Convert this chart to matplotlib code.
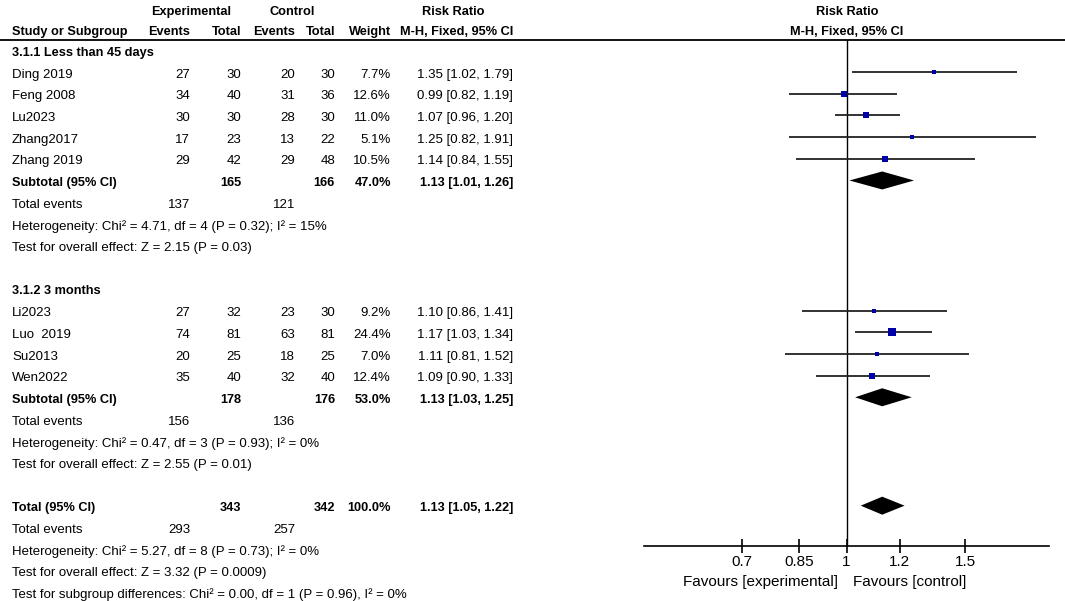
import numpy as np
import matplotlib
matplotlib.use("Agg")
import matplotlib.pyplot as plt
from matplotlib.ticker import NullLocator

plt.rcParams['font.family'] = ['Liberation Sans', 'DejaVu Sans']

# ---- 数据 ----
g1_names = ["Ding 2019", "Feng 2008", "Lu2023", "Zhang2017", "Zhang 2019"]
g1_exp_events = [27, 34, 30, 17, 29]
g1_exp_total = [30, 40, 30, 23, 42]
g1_ctl_events = [20, 31, 28, 13, 29]
g1_ctl_total = [30, 36, 30, 22, 48]
g1_weight = [7.7, 12.6, 11.0, 5.1, 10.5]
g1_rr = [1.35, 0.99, 1.07, 1.25, 1.14]
g1_lo = [1.02, 0.82, 0.96, 0.82, 0.84]
g1_hi = [1.79, 1.19, 1.20, 1.91, 1.55]

g2_names = ["Li2023", "Luo  2019", "Su2013", "Wen2022"]
g2_exp_events = [27, 74, 20, 35]
g2_exp_total = [32, 81, 25, 40]
g2_ctl_events = [23, 63, 18, 32]
g2_ctl_total = [30, 81, 25, 40]
g2_weight = [9.2, 24.4, 7.0, 12.4]
g2_rr = [1.10, 1.17, 1.11, 1.09]
g2_lo = [0.86, 1.03, 0.81, 0.90]
g2_hi = [1.41, 1.34, 1.52, 1.33]

group_titles = ["3.1.1 Less than 45 days", "3.1.2 3 months"]
sub_exp_total = [165, 178]
sub_ctl_total = [166, 176]
sub_exp_events = [137, 156]
sub_ctl_events = [121, 136]
sub_weight = [47.0, 53.0]
sub_rr = [1.13, 1.13]
sub_lo = [1.01, 1.03]
sub_hi = [1.26, 1.25]
sub_het = ["Heterogeneity: Chi\u00b2 = 4.71, df = 4 (P = 0.32); I\u00b2 = 15%",
           "Heterogeneity: Chi\u00b2 = 0.47, df = 3 (P = 0.93); I\u00b2 = 0%"]
sub_z = ["Test for overall effect: Z = 2.15 (P = 0.03)",
         "Test for overall effect: Z = 2.55 (P = 0.01)"]

tot_exp_total, tot_ctl_total = 343, 342
tot_exp_events, tot_ctl_events = 293, 257
tot_weight = 100.0
tot_rr, tot_lo, tot_hi = 1.13, 1.05, 1.22
tot_het = "Heterogeneity: Chi\u00b2 = 5.27, df = 8 (P = 0.73); I\u00b2 = 0%"
tot_z = "Test for overall effect: Z = 3.32 (P = 0.0009)"
tot_sub = "Test for subgroup differences: Chi\u00b2 = 0.00, df = 1 (P = 0.96), I\u00b2 = 0%"

ticks = [0.7, 0.85, 1, 1.2, 1.5]
tick_labels = ["0.7", "0.85", "1", "1.2", "1.5"]

# ---- 布局 (像素) ----
W, H = 1065, 601
Y0, DY = 53.0, 21.68
FS = 9.5      # 普通文字
FB = 9.2      # 粗体文字
FP = 11       # 坐标轴文字 (比表格大)
COLS = [190, 241, 295, 335, 391, 513]   # 各数字列的右边界
LEFT = 12
MARK_OFF = 0.12


def row_of(py):
    return (py - Y0) / DY


def fmt_ci(rr, lo, hi):
    return f"{rr:.2f} [{lo:.2f}, {hi:.2f}]"


fig = plt.figure(figsize=(W / 100, H / 100), dpi=100)
tab = fig.add_axes([0, 0, 1, 1])
tab.set_xlim(0, W)
tab.set_ylim(row_of(H), row_of(0))
tab.axis('off')

fa = fig.add_axes([644 / W, 1 - 546 / H, (1049 - 644) / W, (546 - 40) / H])
fa.set_xscale('log')
fa.set_xlim(0.5, 2)
fa.set_ylim(row_of(546), row_of(40))
fa.patch.set_alpha(0)
for s in ['top', 'right', 'left']:
    fa.spines[s].set_visible(False)
fa.spines['bottom'].set_linewidth(1.2)
fa.set_yticks([])
fa.set_xticks(ticks)
fa.set_xticklabels(tick_labels, fontsize=FP)
fa.xaxis.set_minor_locator(NullLocator())
fa.tick_params(axis='x', direction='inout', length=10, width=1.2, pad=1.5)
fa.axvline(1, color='black', lw=1.0)

# 表头
hy1, hy2 = row_of(12), row_of(32)
tab.text(191, hy1, "Experimental", ha='center', va='center', fontsize=FB, weight='bold')
tab.text(292, hy1, "Control", ha='center', va='center', fontsize=FB, weight='bold')
tab.text(453, hy1, "Risk Ratio", ha='center', va='center', fontsize=FB, weight='bold')
tab.text(847, hy1, "Risk Ratio", ha='center', va='center', fontsize=FB, weight='bold')
tab.text(LEFT, hy2, "Study or Subgroup", ha='left', va='center', fontsize=FB, weight='bold')
for x, t in zip(COLS, ["Events", "Total", "Events", "Total", "Weight", "M-H, Fixed, 95% CI"]):
    tab.text(x, hy2, t, ha='right', va='center', fontsize=FB, weight='bold')
tab.text(847, hy2, "M-H, Fixed, 95% CI", ha='center', va='center', fontsize=FB, weight='bold')
tab.plot([0, W], [row_of(40), row_of(40)], color='black', lw=1.3)


def diamond(r, est, lo, hi):
    h = 9 / DY
    fa.fill([lo, est, hi, est], [r, r - h, r, r + h], color='black', lw=0)


groups = [
    (g1_names, g1_exp_events, g1_exp_total, g1_ctl_events, g1_ctl_total, g1_weight, g1_rr, g1_lo, g1_hi),
    (g2_names, g2_exp_events, g2_exp_total, g2_ctl_events, g2_ctl_total, g2_weight, g2_rr, g2_lo, g2_hi),
]

r = 0
for gi, (names, ee, et, ce, ct, w, rr, lo, hi) in enumerate(groups):
    tab.text(LEFT, r, group_titles[gi], ha='left', va='center', fontsize=FB, weight='bold')
    r += 1
    for i in range(len(names)):
        vals = [str(ee[i]), str(et[i]), str(ce[i]), str(ct[i]), f"{w[i]:.1f}%", fmt_ci(rr[i], lo[i], hi[i])]
        tab.text(LEFT, r, names[i], ha='left', va='center', fontsize=FS)
        for x, t in zip(COLS, vals):
            tab.text(x, r, t, ha='right', va='center', fontsize=FS)
        y = r - MARK_OFF
        fa.plot([lo[i], hi[i]], [y, y], color='#222222', lw=1.3, solid_capstyle='butt')
        fa.plot(rr[i], y, 's', ms=1.6 * np.sqrt(w[i]) * 0.72, color='#0000A8', mew=0)
        r += 1
    # subtotal
    tab.text(LEFT, r, "Subtotal (95% CI)", ha='left', va='center', fontsize=FB, weight='bold')
    for x, t in zip([COLS[1], COLS[3], COLS[4], COLS[5]],
                    [str(sub_exp_total[gi]), str(sub_ctl_total[gi]), f"{sub_weight[gi]:.1f}%",
                     fmt_ci(sub_rr[gi], sub_lo[gi], sub_hi[gi])]):
        tab.text(x, r, t, ha='right', va='center', fontsize=FB, weight='bold')
    diamond(r - MARK_OFF, sub_rr[gi], sub_lo[gi], sub_hi[gi])
    r += 1
    tab.text(LEFT, r, "Total events", ha='left', va='center', fontsize=FS)
    tab.text(COLS[0], r, str(sub_exp_events[gi]), ha='right', va='center', fontsize=FS)
    tab.text(COLS[2], r, str(sub_ctl_events[gi]), ha='right', va='center', fontsize=FS)
    r += 1
    tab.text(LEFT, r, sub_het[gi], ha='left', va='center', fontsize=FS)
    r += 1
    tab.text(LEFT, r, sub_z[gi], ha='left', va='center', fontsize=FS)
    r += 2

# 总计
tab.text(LEFT, r, "Total (95% CI)", ha='left', va='center', fontsize=FB, weight='bold')
for x, t in zip([COLS[1], COLS[3], COLS[4], COLS[5]],
                [str(tot_exp_total), str(tot_ctl_total), f"{tot_weight:.1f}%",
                 fmt_ci(tot_rr, tot_lo, tot_hi)]):
    tab.text(x, r, t, ha='right', va='center', fontsize=FB, weight='bold')
diamond(r - MARK_OFF, tot_rr, tot_lo, tot_hi)
r += 1
tab.text(LEFT, r, "Total events", ha='left', va='center', fontsize=FS)
tab.text(COLS[0], r, str(tot_exp_events), ha='right', va='center', fontsize=FS)
tab.text(COLS[2], r, str(tot_ctl_events), ha='right', va='center', fontsize=FS)
r += 1
for t in [tot_het, tot_z, tot_sub]:
    tab.text(LEFT, r, t, ha='left', va='center', fontsize=FS)
    r += 1

fy = row_of(582)
tab.text(838, fy, "Favours [experimental]", ha='right', va='center', fontsize=FP)
tab.text(853, fy, "Favours [control]", ha='left', va='center', fontsize=FP)

fig.savefig("out.png", dpi=100)
